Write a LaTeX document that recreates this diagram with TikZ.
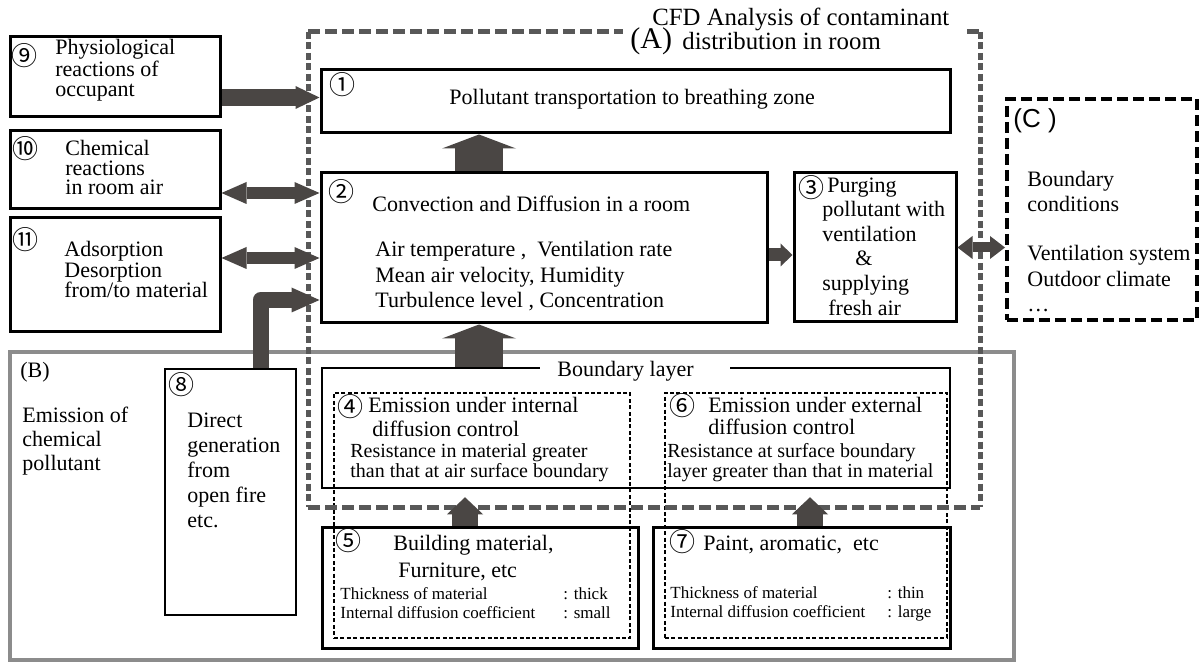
\documentclass[tikz,border=0pt]{standalone}
\usepackage{fontspec}
\setmainfont{Liberation Serif}
\setsansfont{Liberation Sans}
\newfontfamily\cjk{Noto Sans CJK JP}
\usepackage{tikz}
\usetikzlibrary{
  arrows.meta,
  positioning,
  fit,
  calc
}

\definecolor{arrowgray}{RGB}{74,70,68}
\definecolor{framegray}{RGB}{88,88,88}
\definecolor{bordergray}{RGB}{140,140,140}

\begin{document}
\begin{tikzpicture}[
    x=0.5pt, y=-0.5pt,
    box/.style={draw, line width=1.5pt, fill=white, inner sep=0pt},
    thinbox/.style={draw, line width=0.6pt, dash pattern=on 2pt off 1.2pt,
                    inner sep=0pt},
    cbox/.style={draw, line width=2pt, dash pattern=on 5.5pt off 2.5pt,
                 fill=white, inner sep=0pt},
    gbox/.style={draw=bordergray, line width=2pt, inner sep=0pt},
    txt/.style={anchor=base west, inner sep=0pt, align=left,
                font=\fontsize{11}{12.5}\selectfont},
    smalltxt/.style={txt, font=\fontsize{8.5}{9.5}\selectfont},
    num/.style={inner sep=0pt, font=\cjk\fontsize{13}{13}\selectfont},
    afrh/.style={framegray, line width=2.5pt, dash pattern=on 6pt off 2.5pt},
    afrv/.style={framegray, line width=2.5pt, dash pattern=on 3.5pt off 1.75pt},
    harr/.style={arrowgray, line width=8.5pt,
                 -{Triangle[length=12pt, width=11.5pt, line width=0pt]}},
    darr/.style={arrowgray, line width=6pt,
                 {Triangle[length=12.5pt, width=11pt, line width=0pt]}-{Triangle[length=12.5pt, width=11pt, line width=0pt]}},
    elarr/.style={arrowgray, line width=8pt, line join=round,
                  -{Triangle[length=14pt, width=12.5pt, line width=0pt]}},
    uparr/.style={arrowgray, line width=24pt,
                  -{Triangle[length=7pt, width=37pt, line width=0pt]}},
    sarr/.style={arrowgray, line width=6.5pt,
                 -{Triangle[length=6pt, width=11.5pt, line width=0pt]}},
    carr/.style={arrowgray, line width=5pt,
                 {Triangle[length=7.5pt, width=11.5pt, line width=0pt]}-{Triangle[length=7.5pt, width=11.5pt, line width=0pt]}},
    marr/.style={arrowgray, line width=13pt, shorten >=4pt,
                 -{Triangle[length=8.5pt, width=18pt, line width=0pt]}},
  ]
  \useasboundingbox (0,0) rectangle (1200,663);

  % ---- (B) emission frame ----
  \node[gbox, fit={(10,352) (1014,660)}] (bB) {};

  % ---- Left side boxes ----
  \node[box, fit={(10,37) (220,117)}] (b9) {};
  \node[box, fit={(10,131) (220,209)}] (b10) {};
  \node[box, fit={(10,218) (220,332)}] (b11) {};
  \node[box, line width=1.25pt, fit={(165,369) (296,615)}] (b8) {};

  % ---- Room (A) ----
  \node[box, fit={(321,70) (950,133)}] (b1) {};
  \node[box, fit={(321,173) (767,323)}] (b2) {};
  \node[box, fit={(794,173) (956,322)}] (b3) {};
  \node[box, line width=1.25pt, fit={(322,368) (950,488)}] (bl) {};

  % ---- Boundary conditions (C) ----
  \node[cbox, fit={(1007,99) (1197,320)}] (bC) {};

  % ---- Materials ----
  \node[box, fit={(322,527) (638,648)}] (b5) {};
  \node[box, fit={(653,527) (950,648)}] (b7) {};
  \node[thinbox, fit={(334,393) (630,638)}] (d4) {};
  \node[thinbox, fit={(665,393) (947,638)}] (d6) {};

  % ---- Frame of (A) ----
  \draw[afrh] (308,32) -- (623,32);
  \draw[afrh] (967,32) -- (980,32);
  \draw[afrv] (308,32) -- (308,507);
  \draw[afrv] (980,32) -- (980,507);
  \draw[afrh] (308,507) -- (980,507);

  % ---- Arrows ----
  \coordinate (p9) at ([yshift=2pt]b1.west);
  \draw[harr] (p9 -| b9.east) -- (p9);
  \coordinate (p10) at ([yshift=-11.5pt]b10.east);
  \draw[darr] (p10) -- (p10 -| b2.west);
  \coordinate (p11) at ([yshift=8.5pt]b11.east);
  \draw[darr] (p11) -- (p11 -| b2.west);
  \coordinate (p8) at ([xshift=15pt]b8.north);
  \coordinate (q8) at ([yshift=-26pt]b2.west);
  \draw[elarr] (p8) |- (q8);
  \coordinate (p21) at ([xshift=-32.5pt]b2.north);
  \draw[uparr] (p21) -- (p21 |- b1.south);
  \coordinate (pbl) at ([xshift=-32.5pt]b2.south);
  \draw[uparr] (pbl |- bl.north) -- (pbl);
  \coordinate (p23) at ([yshift=-3.5pt]b2.east);
  \draw[sarr] (p23) -- (p23 -| b3.west);
  \draw[carr] (b3.east) -- (b3.east -| bC.west);
  \coordinate (p5) at ([xshift=-7.5pt]b5.north);
  \draw[marr] (p5) -- (p5 |- bl.south);
  \coordinate (p7) at ([xshift=4.25pt]b7.north);
  \draw[marr] (p7) -- (p7 |- bl.south);

  % ---- Label of (A) ----
  % (multi-line texts sit on the baseline of their last line)
  \node[txt, font=\fontsize{15}{15}\selectfont] (alab) at (630,49) {(A)};
  \node[txt, font=\fontsize{12.4}{12}\selectfont] (atitle) at (652,50)
    {CFD Analysis of contaminant\\\hspace*{15pt}distribution in room};

  % ---- Texts, left side ----
  \node[num] (n9) at (24,56) {⑨};
  \node[txt, font=\fontsize{11}{10}\selectfont] (t9) at (55,97)
    {Physiological\\reactions of\\occupant};
  \node[num] (n10) at (25,149) {⑩};
  \node[txt, font=\fontsize{11}{9.8}\selectfont] (t10) at (65,195)
    {Chemical\\reactions\\in room air};
  \node[num] (n11) at (25,240) {⑪};
  \node[txt, font=\fontsize{11}{10.25}\selectfont] (t11) at (64,298)
    {Adsorption\\Desorption\\from/to material};

  % ---- Texts, room ----
  \node[num] (n1) at (342,85) {①};
  \node[txt] (t1) at (449,105) {Pollutant transportation to breathing zone};
  \node[num] (n2) at (341,192) {②};
  \node[txt] (t2) at (372,212) {Convection and Diffusion in a room};
  \node[txt, font=\fontsize{11}{12.5}\selectfont] (t2b) at (375,307)
    {Air temperature ,~~Ventilation rate\\Mean air velocity, Humidity\\Turbulence level , Concentration};
  \node[num] (n3) at (811,188) {③};
  \node[txt, font=\fontsize{11}{12.3}\selectfont] (t3) at (822,315)
    {\hspace*{2.5pt}Purging\\pollutant with\\ventilation\\\hspace*{16.5pt}\&\\supplying\\\hspace*{3pt}fresh air};

  % ---- Texts, (C) ----
  \node[txt, font=\sffamily\fontsize{13}{13}\selectfont] (clab) at (1013,128) {(C )};
  \node[txt] (tC) at (1027,212) {Boundary\\conditions};
  \node[txt, font=\fontsize{11}{12.75}\selectfont] (tC2) at (1027,312)
    {Ventilation system\\Outdoor climate\\\dots};

  % ---- Texts, (B) ----
  \node[txt] (blab) at (20,378) {(B)};
  \node[txt, font=\fontsize{11}{12}\selectfont] (tB) at (22,470)
    {Emission of\\chemical\\pollutant};
  \node[num] (n8) at (181,385) {⑧};
  \node[txt] (t8) at (187,527) {Direct\\generation\\from\\open fire\\etc.};

  % ---- Boundary layer ----
  \node[anchor=base west, fill=white, inner xsep=8.5pt, inner ysep=1.5pt,
        font=\fontsize{11}{12}\selectfont]
    (bltxt) at (540,377) {Boundary layer\hspace*{9.5pt}};
  \node[num] (n4) at (350,407) {④};
  \node[txt, font=\fontsize{11}{12}\selectfont] (t4) at (368,437)
    {Emission under internal\\\hspace*{2pt}diffusion control};
  \node[txt, font=\fontsize{10}{10}\selectfont] (t4b) at (350,477)
    {Resistance in material greater\\than that at air surface boundary};
  \node[num] (n6) at (682,406) {⑥};
  \node[txt, font=\fontsize{11}{11}\selectfont] (t6) at (708,435)
    {Emission under external\\diffusion control};
  \node[txt, font=\fontsize{10}{10}\selectfont] (t6b) at (667,477)
    {Resistance at surface boundary\\layer greater than that in material};

  % ---- Materials ----
  \node[num] (n5) at (348,541) {⑤};
  \node[txt, font=\fontsize{11}{13.5}\selectfont] (t5) at (393,577)
    {Building material,\\\hspace*{2.5pt}Furniture, etc};
  \node[smalltxt] (t5b) at (340,618)
    {Thickness of material\\Internal diffusion coefficient};
  \node[smalltxt] (t5c) at (563,618) {: thick\\: small};
  \node[num] (n7) at (682,542) {⑦};
  \node[txt] (t7) at (703,550) {Paint, aromatic,~~etc};
  \node[smalltxt] (t7b) at (670,617)
    {Thickness of material\\Internal diffusion coefficient};
  \node[smalltxt] (t7c) at (887,617) {: thin\\: large};

\end{tikzpicture}
\end{document}
